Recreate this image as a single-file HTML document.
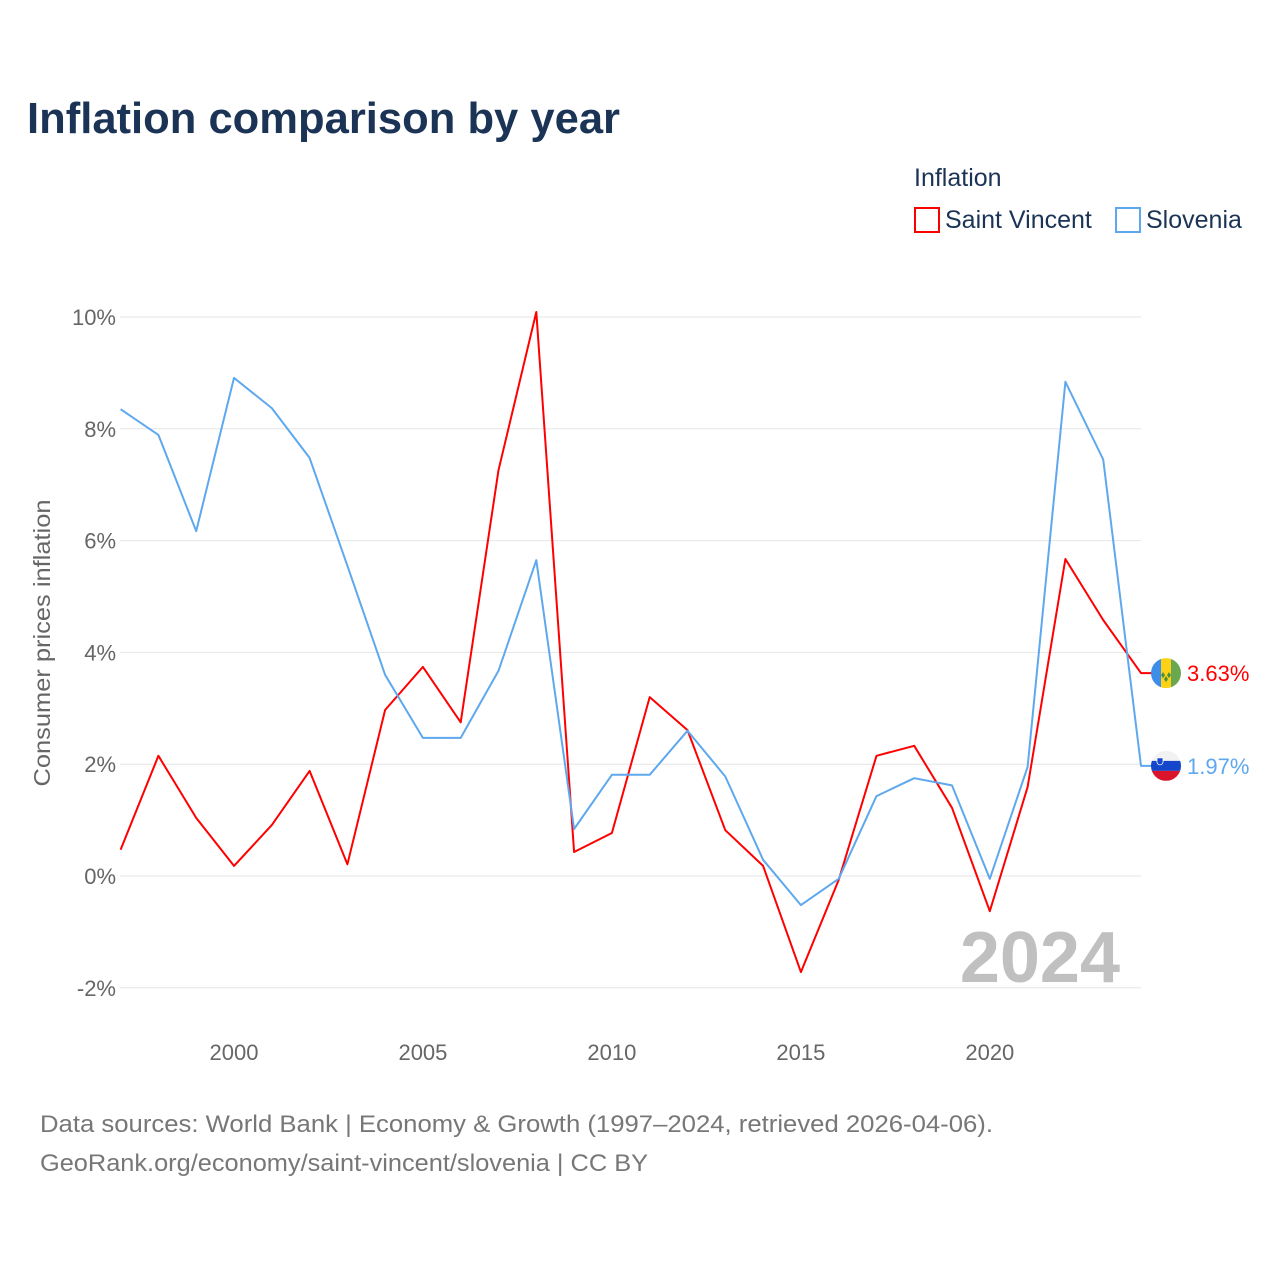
<!DOCTYPE html>
<html><head><meta charset="utf-8">
<style>
body{margin:0;background:#fff;font-family:"Liberation Sans",sans-serif;}
svg{display:block}
</style></head>
<body>
<svg id="chart" width="1280" height="1280" xmlns="http://www.w3.org/2000/svg">
<text x="27" y="133" font-size="44" font-weight="bold" fill="#1b3456" textLength="593" lengthAdjust="spacingAndGlyphs">Inflation comparison by year</text>
<text x="914" y="186" font-size="25" fill="#1b3456">Inflation</text>
<g>
<rect x="915" y="208" width="24" height="24" fill="none" stroke="#f00" stroke-width="2"/>
<text x="945" y="228" font-size="25" fill="#1b3456">Saint Vincent</text></g>
<g>
<rect x="1116" y="208" width="24" height="24" fill="none" stroke="#5ea8ee" stroke-width="2"/>
<text x="1146" y="228" font-size="25" fill="#1b3456">Slovenia</text></g>
<text transform="translate(50,643) rotate(-90)" text-anchor="middle" font-size="23" fill="#666" textLength="287" lengthAdjust="spacingAndGlyphs">Consumer prices inflation</text>
<g id="grid"></g><g id="yt"></g><g id="xt"></g>
<text x="1120" y="982" text-anchor="end" font-size="72" font-weight="bold" fill="#c0c0c0">2024</text>
<g id="series"></g>
<g id="ends"></g>
<text x="40" y="1132" font-size="24" fill="#777" textLength="953" lengthAdjust="spacingAndGlyphs">Data sources: World Bank | Economy &amp; Growth (1997–2024, retrieved 2026-04-06).</text>
<text x="40" y="1171" font-size="24" fill="#777" textLength="608" lengthAdjust="spacingAndGlyphs">GeoRank.org/economy/saint-vincent/slovenia | CC BY</text>
</svg>
<script>
const years=[1997,1998,1999,2000,2001,2002,2003,2004,2005,2006,2007,2008,2009,2010,2011,2012,2013,2014,2015,2016,2017,2018,2019,2020,2021,2022,2023,2024];
const saintVincent=[0.47,2.15,1.04,0.18,0.91,1.88,0.21,2.97,3.74,2.75,7.26,10.09,0.43,0.77,3.2,2.61,0.82,0.18,-1.72,-0.07,2.15,2.33,1.22,-0.63,1.59,5.67,4.58,3.63];
const slovenia=[8.35,7.89,6.17,8.91,8.37,7.48,5.55,3.6,2.47,2.47,3.67,5.65,0.84,1.81,1.81,2.6,1.78,0.29,-0.52,-0.05,1.43,1.75,1.62,-0.05,1.95,8.84,7.45,1.97];
const yTicks=[-2,0,2,4,6,8,10];
const xTicks=[2000,2005,2010,2015,2020];
const NS='http://www.w3.org/2000/svg';
const X=y=>120.6+(y-1997)*(1141-120.6)/27;
const Y=v=>876-v*55.9;
function mk(t,a,p){const e=document.createElementNS(NS,t);for(const k in a)e.setAttribute(k,a[k]);p.appendChild(e);return e;}
const grid=document.getElementById('grid'),yt=document.getElementById('yt'),xt=document.getElementById('xt');
yTicks.forEach(v=>{
 const l=mk('line',{x1:120,x2:1141,y1:Y(v),y2:Y(v),stroke:'#e6e6e6','stroke-width':1},grid);
 
 
 const t=mk('text',{x:116,y:Y(v)+8,'text-anchor':'end','font-size':22,fill:'#666'},yt);
 t.textContent=v+'%';
 
 
});
xTicks.forEach(v=>{
 const t=mk('text',{x:X(v),y:1060,'text-anchor':'middle','font-size':22,fill:'#666'},xt);
 t.textContent=v;
 
 
});
const ser=document.getElementById('series'),ends=document.getElementById('ends');
function draw(data,color,name,label){
 const d=data.map((v,i)=>(i?'L':'M')+X(years[i]).toFixed(1)+','+Y(v).toFixed(1)).join('')+'L1152,'+Y(data[data.length-1]).toFixed(1);
 const p=mk('path',{d:d,fill:'none',stroke:color,'stroke-width':2,'stroke-linejoin':'round'},ser);
 
 
 const t=mk('text',{x:1187,y:Y(data[data.length-1])+8,'font-size':22,fill:color},ends);
 t.textContent=label(data[data.length-1]);
 
 
 return Y(data[data.length-1]);
}
const fmt=v=>v.toFixed(2)+'%';
const ySV=draw(saintVincent,'#f00','saint-vincent',fmt);
const ySL=draw(slovenia,'#5ea8ee','slovenia',fmt);
let g=mk('g',{},ends);


const c1=mk('clipPath',{id:'c1'},g);mk('circle',{cx:1166,cy:ySV,r:15},c1);
mk('rect',{x:1151,y:ySV-15,width:10,height:30,fill:'#3d8ee8','clip-path':'url(#c1)'},g);
mk('rect',{x:1161,y:ySV-15,width:10,height:30,fill:'#fcd116','clip-path':'url(#c1)'},g);
mk('rect',{x:1171,y:ySV-15,width:10,height:30,fill:'#6aa84f','clip-path':'url(#c1)'},g);
mk('path',{d:`M1163,${ySV-1}l2,3l-2,3l-2,-3zM1169,${ySV-1}l2,3l-2,3l-2,-3zM1166,${ySV+3}l2,3l-2,3l-2,-3z`,fill:'#4a8f3a'},g);
g=mk('g',{},ends);


const c2=mk('clipPath',{id:'c2'},g);mk('circle',{cx:1166,cy:ySL,r:15},c2);
mk('rect',{x:1151,y:ySL-15,width:30,height:10,fill:'#f2f2f2','clip-path':'url(#c2)'},g);
mk('rect',{x:1151,y:ySL-5,width:30,height:10,fill:'#1447c9','clip-path':'url(#c2)'},g);
mk('rect',{x:1151,y:ySL+5,width:30,height:10,fill:'#d9142b','clip-path':'url(#c2)'},g);
mk('path',{d:`M1157,${ySL-8}h6v4a3,3 0 0 1 -6,0z`,fill:'#1447c9',stroke:'#fff','stroke-width':0.8},g);
</script>
</body></html>
